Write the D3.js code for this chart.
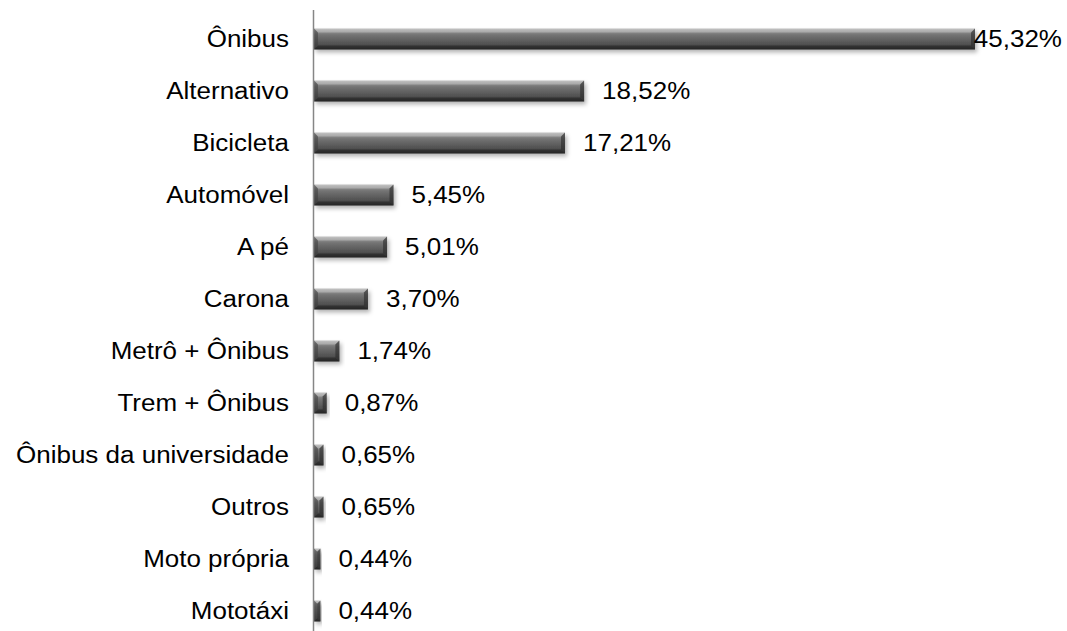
<!DOCTYPE html>
<html>
<head>
<meta charset="utf-8">
<script src="https://cdn.jsdelivr.net/npm/d3@7"></script>
<style>
  body { margin: 0; background: #fff; }
  text { font-family: "Liberation Sans", Arial, sans-serif; fill: #000; }
</style>
</head>
<body>
<div id="chart"></div>
<script>
// categories top -> bottom
const categories = ["Ônibus", "Alternativo", "Bicicleta", "Automóvel", "A pé", "Carona",
  "Metrô + Ônibus", "Trem + Ônibus", "Ônibus da universidade", "Outros", "Moto própria", "Mototáxi"];
const values = [45.32, 18.52, 17.21, 5.45, 5.01, 3.70, 1.74, 0.87, 0.65, 0.65, 0.44, 0.44];
const valueLabels = ["45,32%", "18,52%", "17,21%", "5,45%", "5,01%", "3,70%",
  "1,74%", "0,87%", "0,65%", "0,65%", "0,44%", "0,44%"];

const W = 1067, H = 631;
const axisX = 314;
const sx = 1.13; // text is a bit wide in the picture
const fs = 23;

const svg = d3.select("#chart").append("svg").attr("width", W).attr("height", H);
const defs = svg.append("defs");

const grad = defs.append("linearGradient").attr("id", "barGrad")
  .attr("x1", 0).attr("y1", 0).attr("x2", 0).attr("y2", 1);
[[0, "#b8b8b8"], [0.12, "#939393"], [0.3, "#747474"], [0.6, "#5c5c5c"], [0.85, "#4a4a4a"], [1, "#303030"]]
  .forEach(s => grad.append("stop").attr("offset", s[0]).attr("stop-color", s[1]));

const shadow = defs.append("filter").attr("id", "shadow")
  .attr("x", "-10%").attr("y", "-50%").attr("width", "130%").attr("height", "250%");
shadow.append("feDropShadow").attr("dx", 2).attr("dy", 3).attr("stdDeviation", 2.2)
  .attr("flood-color", "#000").attr("flood-opacity", 0.3);

const x = d3.scaleLinear().domain([0, 45.32]).range([axisX, 975]);
const y = d3.scaleBand().domain(categories).range([13, 637]).paddingInner(0.6).paddingOuter(0.3);

const rows = svg.append("g").selectAll("g").data(categories).join("g");

const bh = y.bandwidth();
const bev = 4;

rows.each(function(c, i) {
  const g = d3.select(this);
  const x0 = x(0), x1 = x(values[i]);
  const y0 = y(c), y1 = y0 + bh;
  const w = x1 - x0;
  const b = Math.min(bev, w / 2);
  g.append("rect").attr("x", x0).attr("y", y0).attr("width", w).attr("height", bh)
    .attr("fill", "url(#barGrad)").attr("filter", "url(#shadow)");
  // top light facet
  g.append("polygon").attr("points", [[x0, y0], [x1, y0], [x1 - b, y0 + b], [x0 + b, y0 + b]].join(" "))
    .attr("fill", "#d0d0d0").attr("opacity", 0.45);
  // bottom dark facet
  g.append("polygon").attr("points", [[x0, y1], [x1, y1], [x1 - b, y1 - b], [x0 + b, y1 - b]].join(" "))
    .attr("fill", "#1e1e1e").attr("opacity", 0.55);
  // left facet
  g.append("polygon").attr("points", [[x0, y0], [x0 + b, y0 + b], [x0 + b, y1 - b], [x0, y1]].join(" "))
    .attr("fill", "#3a3a3a").attr("opacity", 0.5);
  // right facet
  g.append("polygon").attr("points", [[x1, y0], [x1 - b, y0 + b], [x1 - b, y1 - b], [x1, y1]].join(" "))
    .attr("fill", "#2a2a2a").attr("opacity", 0.6);
});

// category labels
rows.append("text")
  .attr("transform", c => `translate(289,${y(c) + bh / 2 + 8}) scale(${sx},1)`)
  .attr("text-anchor", "end")
  .style("font-size", fs + "px")
  .text(c => c);

// value labels
rows.append("text")
  .style("font-size", fs + "px")
  .text((c, i) => valueLabels[i])
  .attr("transform", function(c, i) {
    const tw = this.getComputedTextLength() * sx;
    const tx = Math.min(x(values[i]) + 18, 1062 - tw);
    return `translate(${tx},${y(c) + bh / 2 + 8}) scale(${sx},1)`;
  });

// axis line
svg.append("line").attr("x1", axisX - 0.5).attr("x2", axisX - 0.5).attr("y1", 10).attr("y2", H)
  .attr("stroke", "#868686").attr("stroke-width", 1.5);
</script>
</body>
</html>
